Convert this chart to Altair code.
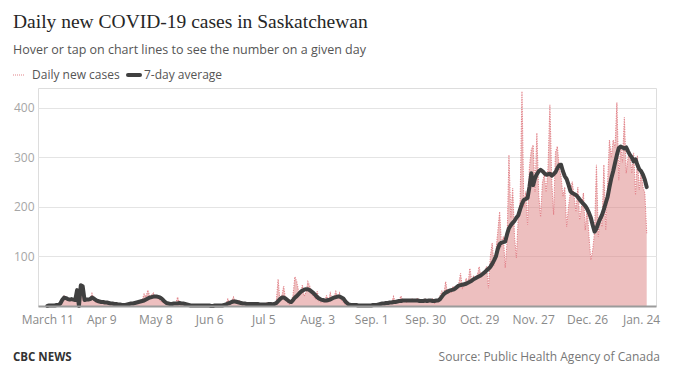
import altair as alt
import pandas as pd

# ---- daily new cases (Mar 11, 2020 .. Jan 27, 2021) ----
daily_mar = [0, 1, 0, 1, 2, 1, 3, 6, 14, 20, 12, 16, 10, 14, 13, 12, 30, 2, 45, 38, 10]
daily_apr = [14, 10, 12, 25, 13, 8, 9, 7, 10, 5, 8, 6, 4, 7, 3, 5, 2, 4, 3, 1,
             2, 3, 1, 4, 6, 3, 8, 6, 10, 12]
daily_may = [12, 24, 18, 32, 20, 22, 26, 15, 18, 14, 10, 8, 6, 4, 5, 3, 2, 8, 4, 18,
             6, 3, 4, 2, 1, 2, 0, 1, 2, 0, 1]
daily_jun = [2, 0, 1, 1, 0, 2, 0, 0, 1, 0, 2, 1, 3, 2, 4, 14, 6, 10, 18, 8,
             6, 12, 4, 3, 8, 2, 5, 4, 3, 6]
daily_jul = [3, 5, 2, 4, 1, 3, 6, 2, 4, 3, 5, 8, 54, 10, 20, 40, 12, 8, 4, 10,
             22, 59, 49, 30, 24, 42, 20, 28, 49, 40, 25]
daily_aug = [20, 15, 30, 10, 8, 12, 6, 22, 8, 26, 14, 18, 29, 16, 26, 12, 8, 4, 2, 3,
             1, 2, 0, 3, 1, 2, 0, 1, 2, 1, 1]
daily_sep = [2, 1, 0, 3, 2, 5, 6, 4, 8, 5, 10, 7, 19, 6, 8, 12, 20, 9, 14, 8,
             12, 10, 14, 9, 12, 16, 8, 10, 9, 14]
daily_oct = [12, 8, 10, 14, 6, 9, 12, 20, 30, 24, 49, 25, 30, 28, 40, 32, 35, 44, 66, 36,
             40, 56, 45, 76, 50, 60, 55, 62, 79, 58, 70]
daily_nov = [66, 80, 36, 100, 127, 82, 110, 150, 190, 120, 140, 77, 130, 305, 178, 238, 140, 97, 180, 210,
             433, 200, 231, 164, 280, 315, 325, 230, 349, 224]
daily_dec = [180, 250, 265, 230, 280, 406, 251, 184, 310, 322, 280, 261, 221, 240, 160, 200, 230, 251, 221, 190,
             240, 174, 200, 228, 153, 198, 140, 93, 113, 150, 285]
daily_jan = [140, 180, 160, 285, 153, 250, 335, 300, 335, 320, 411, 254, 325, 290, 381, 268, 300, 309, 268, 309,
             224, 303, 234, 270, 240, 228, 147]

# ---- 7-day average ----
avg_mar = [0, 1, 1, 1, 1, 2, 2, 5, 12, 17, 16, 14, 13, 14, 13, 12, 32, 0, 42, 40, 12]
avg_apr = [13, 13, 14, 17, 15, 12, 10, 9, 8, 8, 7, 7, 6, 5, 5, 4, 4, 3, 3, 2,
           2, 2, 3, 4, 5, 5, 6, 7, 8, 9]
avg_may = [10, 11, 13, 15, 17, 18, 19, 19, 19, 18, 16, 13, 9, 6, 5, 4, 4, 5, 5, 5,
           6, 5, 5, 4, 3, 2, 1, 1, 1, 1, 1]
avg_jun = [1, 1, 1, 1, 1, 1, 0, 0, 1, 1, 1, 1, 1, 2, 3, 5, 6, 8, 9, 9,
           8, 7, 6, 5, 5, 4, 4, 4, 4, 4]
avg_jul = [4, 4, 3, 3, 3, 3, 3, 4, 4, 3, 4, 6, 10, 14, 17, 17, 15, 12, 9, 8,
           12, 17, 20, 24, 28, 31, 33, 34, 34, 32, 29]
avg_aug = [26, 22, 18, 15, 13, 12, 11, 11, 12, 13, 15, 17, 18, 19, 19, 17, 15, 10, 6, 3,
           2, 2, 2, 2, 1, 1, 1, 1, 1, 1, 1]
avg_sep = [1, 2, 2, 2, 3, 4, 5, 5, 6, 6, 7, 7, 8, 8, 9, 10, 10, 11, 11, 11,
           11, 11, 11, 11, 11, 11, 10, 10, 10, 11]
avg_oct = [10, 11, 11, 10, 10, 11, 11, 14, 19, 24, 27, 29, 31, 32, 33, 35, 38, 41, 42, 43,
           44, 45, 47, 49, 51, 54, 56, 58, 60, 62, 65]
avg_nov = [68, 72, 75, 79, 85, 92, 100, 115, 125, 128, 129, 130, 145, 157, 163, 168, 172, 178, 183, 195,
           206, 214, 216, 218, 240, 268, 244, 258, 266, 272]
avg_dec = [275, 272, 268, 265, 266, 267, 263, 266, 270, 278, 284, 285, 272, 262, 256, 245, 232, 228, 226, 224,
           220, 215, 210, 206, 202, 196, 188, 178, 163, 150, 156]
avg_jan = [167, 176, 184, 195, 208, 220, 240, 258, 272, 289, 305, 319, 322, 320, 318, 320, 312, 305, 300, 292,
           296, 285, 276, 272, 265, 255, 240]

tick_dates = ["2020-03-11", "2020-04-09", "2020-05-08", "2020-06-06", "2020-07-05", "2020-08-03",
              "2020-09-01", "2020-09-30", "2020-10-29", "2020-11-27", "2020-12-26", "2021-01-24"]
tick_labels = ["March 11", "Apr 9", "May 8", "Jun 6", "Jul 5", "Aug. 3",
               "Sep. 1", "Sep. 30", "Oct. 29", "Nov. 27", "Dec. 26", "Jan. 24"]
y_ticks = [100, 200, 300, 400]

daily = (daily_mar + daily_apr + daily_may + daily_jun + daily_jul + daily_aug +
         daily_sep + daily_oct + daily_nov + daily_dec + daily_jan)
avg = (avg_mar + avg_apr + avg_may + avg_jun + avg_jul + avg_aug +
       avg_sep + avg_oct + avg_nov + avg_dec + avg_jan)
assert len(daily) == len(avg), (len(daily), len(avg))

dates = pd.date_range("2020-03-11", periods=len(daily), freq="D").strftime("%Y-%m-%d")
df = pd.DataFrame({"date": list(dates), "daily": daily, "avg": avg})


def dt(s):
    y, m, d = (int(p) for p in s.split("-"))
    return alt.DateTime(year=y, month=m, date=d, utc=True)


keys_js = "[" + ",".join("'%s'" % d for d in tick_dates) + "]"
labels_js = "[" + ",".join("'%s'" % l for l in tick_labels) + "]"
label_expr = "%s[indexof(%s, utcFormat(datum.value, '%%Y-%%m-%%d'))]" % (labels_js, keys_js)

FONT = "Open Sans"

x_enc = alt.X(
    "date:T",
    scale=alt.Scale(type="utc", domain=[dt("2020-03-06"), dt("2021-02-01")]),
    axis=alt.Axis(values=[dt(d) for d in tick_dates], labelExpr=label_expr, title=None,
                  grid=False, ticks=False, domainColor="#9b9b9b", domainWidth=2,
                  labelColor="#8a8a8a", labelFont=FONT, labelFontSize=12, labelPadding=8,
                  labelOverlap=False, labelFlush=False, zindex=1),
)
y_scale = alt.Scale(domain=[0, 440], nice=False)
y_axis = alt.Axis(values=y_ticks, title=None, domain=False, ticks=False,
                  gridColor="#e4e4e4", labelColor="#a6a6a6", labelFont=FONT,
                  labelFontSize=12, labelPadding=4)

base = alt.Chart(df)
area = base.mark_area(color="#dc7f80", opacity=0.5, interpolate="linear").encode(
    x=x_enc, y=alt.Y("daily:Q", scale=y_scale, axis=y_axis))
dotted = base.mark_line(color="#e2838a", strokeDash=[1.2, 1.2], strokeWidth=1.1).encode(
    x=x_enc, y=alt.Y("daily:Q", scale=y_scale, axis=y_axis))
avg_line = base.mark_line(color="#404040", strokeWidth=4, strokeJoin="round", strokeCap="round").encode(
    x=x_enc, y=alt.Y("avg:Q", scale=y_scale, axis=y_axis))

one = alt.Chart(pd.DataFrame({"k": [0]}))


def txt(s, x, y, **kw):
    return one.mark_text(align=kw.pop("align", "left"), baseline="alphabetic", **kw).encode(
        x=alt.value(x), y=alt.value(y), text=alt.value(s))


title = txt("Daily new COVID-19 cases in Saskatchewan", -25, -60,
            font="Liberation Serif", fontSize=19.5, color="#262626")
subtitle = txt("Hover or tap on chart lines to see the number on a given day", -25, -34,
               font=FONT, fontSize=12.5, color="#555555")
leg_daily_sw = one.mark_rule(color="#e2838a", strokeDash=[1, 1], strokeWidth=1.2).encode(
    x=alt.value(-25), x2=alt.value(-13), y=alt.value(-13))
leg_daily_tx = txt("Daily new cases", -6, -9, font=FONT, fontSize=12, color="#555555")
leg_avg_sw = one.mark_rule(color="#404040", strokeWidth=4, strokeCap="round").encode(
    x=alt.value(90), x2=alt.value(102), y=alt.value(-13))
leg_avg_tx = txt("7-day average", 106, -9, font=FONT, fontSize=12, color="#555555")
footer_l = txt("CBC NEWS", -25, 273, font=FONT, fontSize=11.5, fontWeight="bold", color="#333333")
footer_r = txt("Source: Public Health Agency of Canada", 622, 273, align="right",
               font=FONT, fontSize=12, color="#777777")

chart = alt.layer(
    area, dotted, avg_line,
    title, subtitle, leg_daily_sw, leg_daily_tx, leg_avg_sw, leg_avg_tx, footer_l, footer_r,
).properties(
    width=618, height=218,
    padding={"left": 30, "top": 80, "right": 8, "bottom": 60},
    autosize=alt.AutoSizeParams(type="none"),
).configure_view(stroke=None).configure(background="white")

chart.save("out.html", embed_options={"renderer": "svg", "actions": False})
